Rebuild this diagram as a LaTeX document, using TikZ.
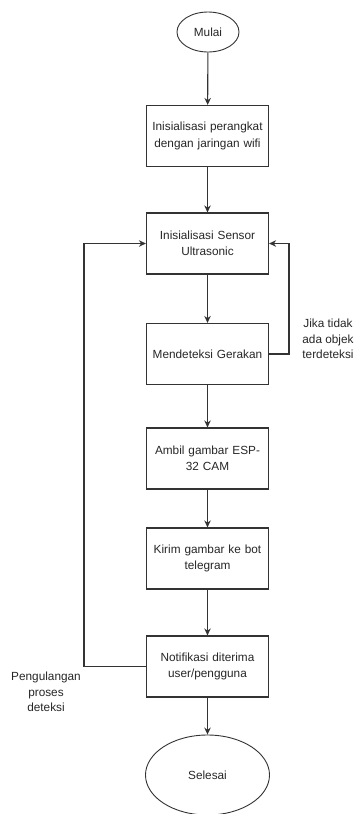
\documentclass[tikz,border=0pt]{standalone}
\usepackage{fontspec}
\setmainfont{Liberation Sans}
\usetikzlibrary{arrows.meta,shapes.geometric}
\begin{document}
\begin{tikzpicture}[x=1pt,y=-1pt,
  every node/.style={font=\fontsize{11.8}{16.5}\selectfont, text=black!85},
  proc/.style={draw=black!80, line width=1.2pt, minimum width=122pt, minimum height=61pt, align=center, inner sep=1pt, text width=120pt},
  term/.style={draw=black!80, line width=0.9pt, ellipse, inner sep=0pt},
  conn/.style={draw=black!80, line width=1.1pt, -{Stealth[length=7pt,width=6.5pt]}},
  lbl/.style={align=center, font=\fontsize{11.8}{15.5}\selectfont}]
\useasboundingbox (0,0) rectangle (355,814);
\node[term, minimum width=62pt, minimum height=40pt] (start) at (208,32) {Mulai};
\node[proc] (b1) at (207.5,136) {Inisialisasi perangkat\\dengan jaringan wifi};
\node[proc] (b2) at (207.5,243.5) {Inisialisasi Sensor\\Ultrasonic};
\node[proc] (b3) at (207.5,354) {Mendeteksi Gerakan};
\node[proc] (b4) at (207.5,458.5) {Ambil gambar ESP-\\32 CAM};
\node[proc] (b5) at (207.5,558.5) {Kirim gambar ke bot\\telegram};
\node[proc] (b6) at (207.5,666.5) {Notifikasi diterima\\user/pengguna};
\node[term, minimum width=124pt, minimum height=80pt] (end) at (207.5,775) {Selesai};
\node[lbl] (l1) at (328,339) {Jika tidak\\ada objek\\terdeteksi};
\node[lbl] (l2) at (46,692) {Pengulangan\\proses\\deteksi};
\coordinate (r1) at (289,354);
\coordinate (r2) at (289,243.5);
\coordinate (q1) at (84,666.5);
\coordinate (q2) at (84,243.5);
\draw[conn] (start) -- (b1);
\draw[conn] (b1) -- (b2);
\draw[conn] (b2) -- (b3);
\draw[conn] (b3) -- (b4);
\draw[conn] (b4) -- (b5);
\draw[conn] (b5) -- (b6);
\draw[conn] (b6) -- (end);
\draw[conn] (b3.east) -- (r1) -- (r2) -- (b2.east);
\draw[conn] (b6.west) -- (q1) -- (q2) -- (b2.west);
\end{tikzpicture}
\end{document}
